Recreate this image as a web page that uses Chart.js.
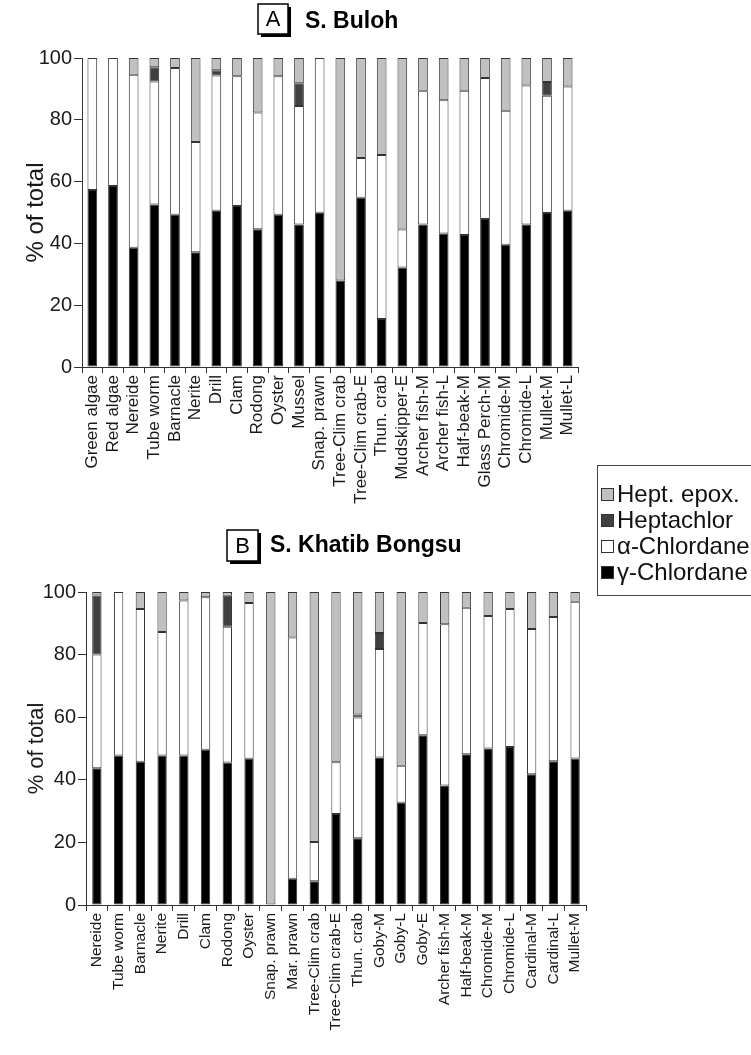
<!DOCTYPE html>
<html><head><meta charset="utf-8">
<script src="https://cdn.jsdelivr.net/npm/chart.js@4.4.1/dist/chart.umd.min.js"></script>
<style>
html,body{margin:0;padding:0;background:#fff;width:751px;height:1055px;overflow:hidden;}
#ca{position:absolute;left:0;top:0;}
#cb{position:absolute;left:0;top:440px;}
</style></head><body>
<canvas id="ca" width="751" height="530"></canvas>
<canvas id="cb" width="751" height="615"></canvas>
<script>
const seriesNames = ['γ-Chlordane','α-Chlordane','Heptachlor','Hept. epox.'];
const seriesColors = ['#000000','#ffffff','#404040','#c0c0c0'];
const yTicks = [0,20,40,60,80,100];

const catsA = ['Green algae','Red algae','Nereide','Tube worm','Barnacle','Nerite','Drill','Clam','Rodong','Oyster','Mussel','Snap. prawn','Tree-Clim crab','Tree-Clim crab-E','Thun. crab','Mudskipper-E','Archer fish-M','Archer fish-L','Half-beak-M','Glass Perch-M','Chromide-M','Chromide-L','Mullet-M','Mullet-L'];
const gammaA = [57.3,58.6,38.6,52.6,49.3,37.1,50.6,52.1,44.6,49.3,46.1,49.9,28.0,54.8,15.5,32.2,46.1,43.2,42.7,47.9,39.6,46.1,49.8,50.6];
const alphaA = [42.7,41.4,56.0,39.8,47.5,35.7,43.7,42.0,37.8,44.8,38.4,50.1,0,12.8,53.1,12.3,43.3,43.1,46.7,45.6,43.3,45.0,38.0,40.2];
const heptA  = [0,0,0,4.6,0,0,1.7,0,0,0,7.3,0,0,0,0,0,0,0,0,0,0,0,4.4,0];
const epoxA  = [0,0,5.4,3.0,3.2,27.2,4.0,5.9,17.6,5.9,8.2,0,72.0,32.4,31.4,55.5,10.6,13.7,10.6,6.5,17.1,8.9,7.8,9.2];

const catsB = ['Nereide','Tube worm','Barnacle','Nerite','Drill','Clam','Rodong','Oyster','Snap. prawn','Mar. prawn','Tree-Clim crab','Tree-Clim crab-E','Thun. crab','Goby-M','Goby-L','Goby-E','Archer fish-M','Half-beak-M','Chromide-M','Chromide-L','Cardinal-M','Cardinal-L','Mullet-M'];
const gammaB = [43.7,47.8,45.8,47.8,47.8,49.6,45.5,46.7,0,8.4,7.6,29.1,21.3,47.1,32.7,54.2,38.2,48.2,50.0,50.5,41.8,45.9,46.8];
const alphaB = [36.3,52.2,48.8,39.4,49.5,48.7,43.4,49.8,0,77.1,12.5,16.5,38.6,34.7,11.8,35.9,51.5,46.8,42.3,44.1,46.4,46.1,50.1];
const heptB  = [18.9,0,0,0,0,0,9.9,0,0,0,0,0,1.0,5.1,0,0,0,0,0,0,0,0,0];
const epoxB  = [1.1,0,5.4,12.8,2.7,1.7,1.2,3.5,100,14.5,79.9,54.4,39.1,13.1,55.5,9.9,10.3,5.0,7.7,5.4,11.8,8.0,3.1];

Chart.defaults.font.family = "'Liberation Sans', Arial, sans-serif";
Chart.defaults.color = '#1a1a1a';

function makeSets(arrs, barPct){
  return arrs.map((a,i)=>({
    label: seriesNames[i],
    data: a.map(v => v === 0 ? null : v),
    backgroundColor: seriesColors[i],
    borderColor: '#333',
    borderWidth: 1,
    borderSkipped: false,
    barPercentage: barPct,
    categoryPercentage: 1.0
  }));
}

const panelTitle = {
  id: 'panelTitle',
  afterDraw(chart, args, o){
    const ctx = chart.ctx;
    ctx.save();
    ctx.fillStyle = '#000';
    ctx.fillRect(o.x + 3, o.y + 3, o.w, o.h);
    ctx.fillStyle = '#fff';
    ctx.fillRect(o.x, o.y, o.w, o.h);
    ctx.strokeStyle = '#000'; ctx.lineWidth = 1.5;
    ctx.strokeRect(o.x, o.y, o.w, o.h);
    ctx.fillStyle = '#000';
    ctx.textAlign = 'center'; ctx.textBaseline = 'middle';
    ctx.font = o.letterFont;
    ctx.fillText(o.letter, o.x + o.w/2, o.y + o.h/2 + 1);
    ctx.textAlign = 'left';
    ctx.font = o.font;
    ctx.fillText(o.text, o.tx, o.ty);
    ctx.restore();
  }
};

const sideLegend = {
  id: 'sideLegend',
  afterDraw(chart, args, o){
    if (!o || !o.show) return;
    const ctx = chart.ctx;
    ctx.save();
    ctx.strokeStyle = '#444'; ctx.lineWidth = 1;
    ctx.strokeRect(o.x + 0.5, o.y + 0.5, o.w, o.h);
    ctx.font = o.font; ctx.textBaseline = 'middle'; ctx.textAlign = 'left';
    const ds = chart.data.datasets.slice().reverse();
    ds.forEach((d, i) => {
      const cy = o.firstY + i * o.gap;
      ctx.fillStyle = d.backgroundColor;
      ctx.fillRect(o.x + 4, cy - 6, 13, 13);
      ctx.strokeStyle = '#333';
      ctx.strokeRect(o.x + 4.5, cy - 5.5, 12, 12);
      ctx.fillStyle = '#111';
      ctx.fillText(d.label, o.x + 20, cy + 1);
    });
    ctx.restore();
  }
};

function makeChart(id, cats, arrs, cfg){
  return new Chart(document.getElementById(id), {
    type: 'bar',
    data: { labels: cats, datasets: makeSets(arrs, cfg.barPct) },
    plugins: [panelTitle, sideLegend],
    options: {
      responsive: false, animation: false, events: [],
      layout: { padding: { top: cfg.top, right: cfg.right, left: 0, bottom: 0 } },
      plugins: {
        legend: { display: false }, tooltip: { enabled: false },
        panelTitle: cfg.title,
        sideLegend: cfg.legend
      },
      scales: {
        x: {
          stacked: true,
          border: { display: true, color: '#333', width: 1 },
          grid: { display: true, drawOnChartArea: false, drawTicks: true, tickLength: 6, color: '#333', offset: true },
          ticks: { autoSkip: false, minRotation: 90, maxRotation: 90, padding: 2, font: { size: cfg.xFont }, color: '#1a1a1a' },
          afterFit: s => { s.height = cfg.xH; }
        },
        y: {
          stacked: true, min: 0, max: 100,
          border: { display: true, color: '#333', width: 1 },
          grid: { display: true, drawOnChartArea: false, drawTicks: true, tickLength: 8, color: '#333' },
          afterBuildTicks: s => { s.ticks = yTicks.map(v => ({ value: v })); },
          ticks: { padding: 2, font: { size: cfg.yFont }, color: '#1a1a1a' },
          title: { display: true, text: '% of total', font: { size: cfg.titleFont }, color: '#1a1a1a', padding: { top: cfg.titlePad, bottom: 0 } },
          afterFit: s => { s.width = cfg.yW; }
        }
      }
    }
  });
}

makeChart('ca', catsA, [gammaA, alphaA, heptA, epoxA], {
  barPct: 0.47, top: 58, right: 173, xH: 163, yW: 82,
  xFont: 17, yFont: 20, titleFont: 24, titlePad: 22,
  title: { x: 258, y: 4, w: 30, h: 30, letter: 'A', letterFont: '22px "Liberation Sans", Arial', text: 'S. Buloh', font: 'bold 23px "Liberation Sans", Arial', tx: 305, ty: 22 },
  legend: { show: false }
});

makeChart('cb', catsB, [gammaB, alphaB, heptB, epoxB], {
  barPct: 0.43, top: 152, right: 165, xH: 150, yW: 86,
  xFont: 15.5, yFont: 20, titleFont: 22, titlePad: 24,
  title: { x: 227, y: 90, w: 31, h: 31, letter: 'B', letterFont: '22px "Liberation Sans", Arial', text: 'S. Khatib Bongsu', font: 'bold 23px "Liberation Sans", Arial', tx: 270, ty: 106 },
  legend: { show: true, x: 597, y: 25, w: 200, h: 130, firstY: 54, gap: 26, font: '24px "Liberation Sans", Arial' }
});
</script>
</body></html>
